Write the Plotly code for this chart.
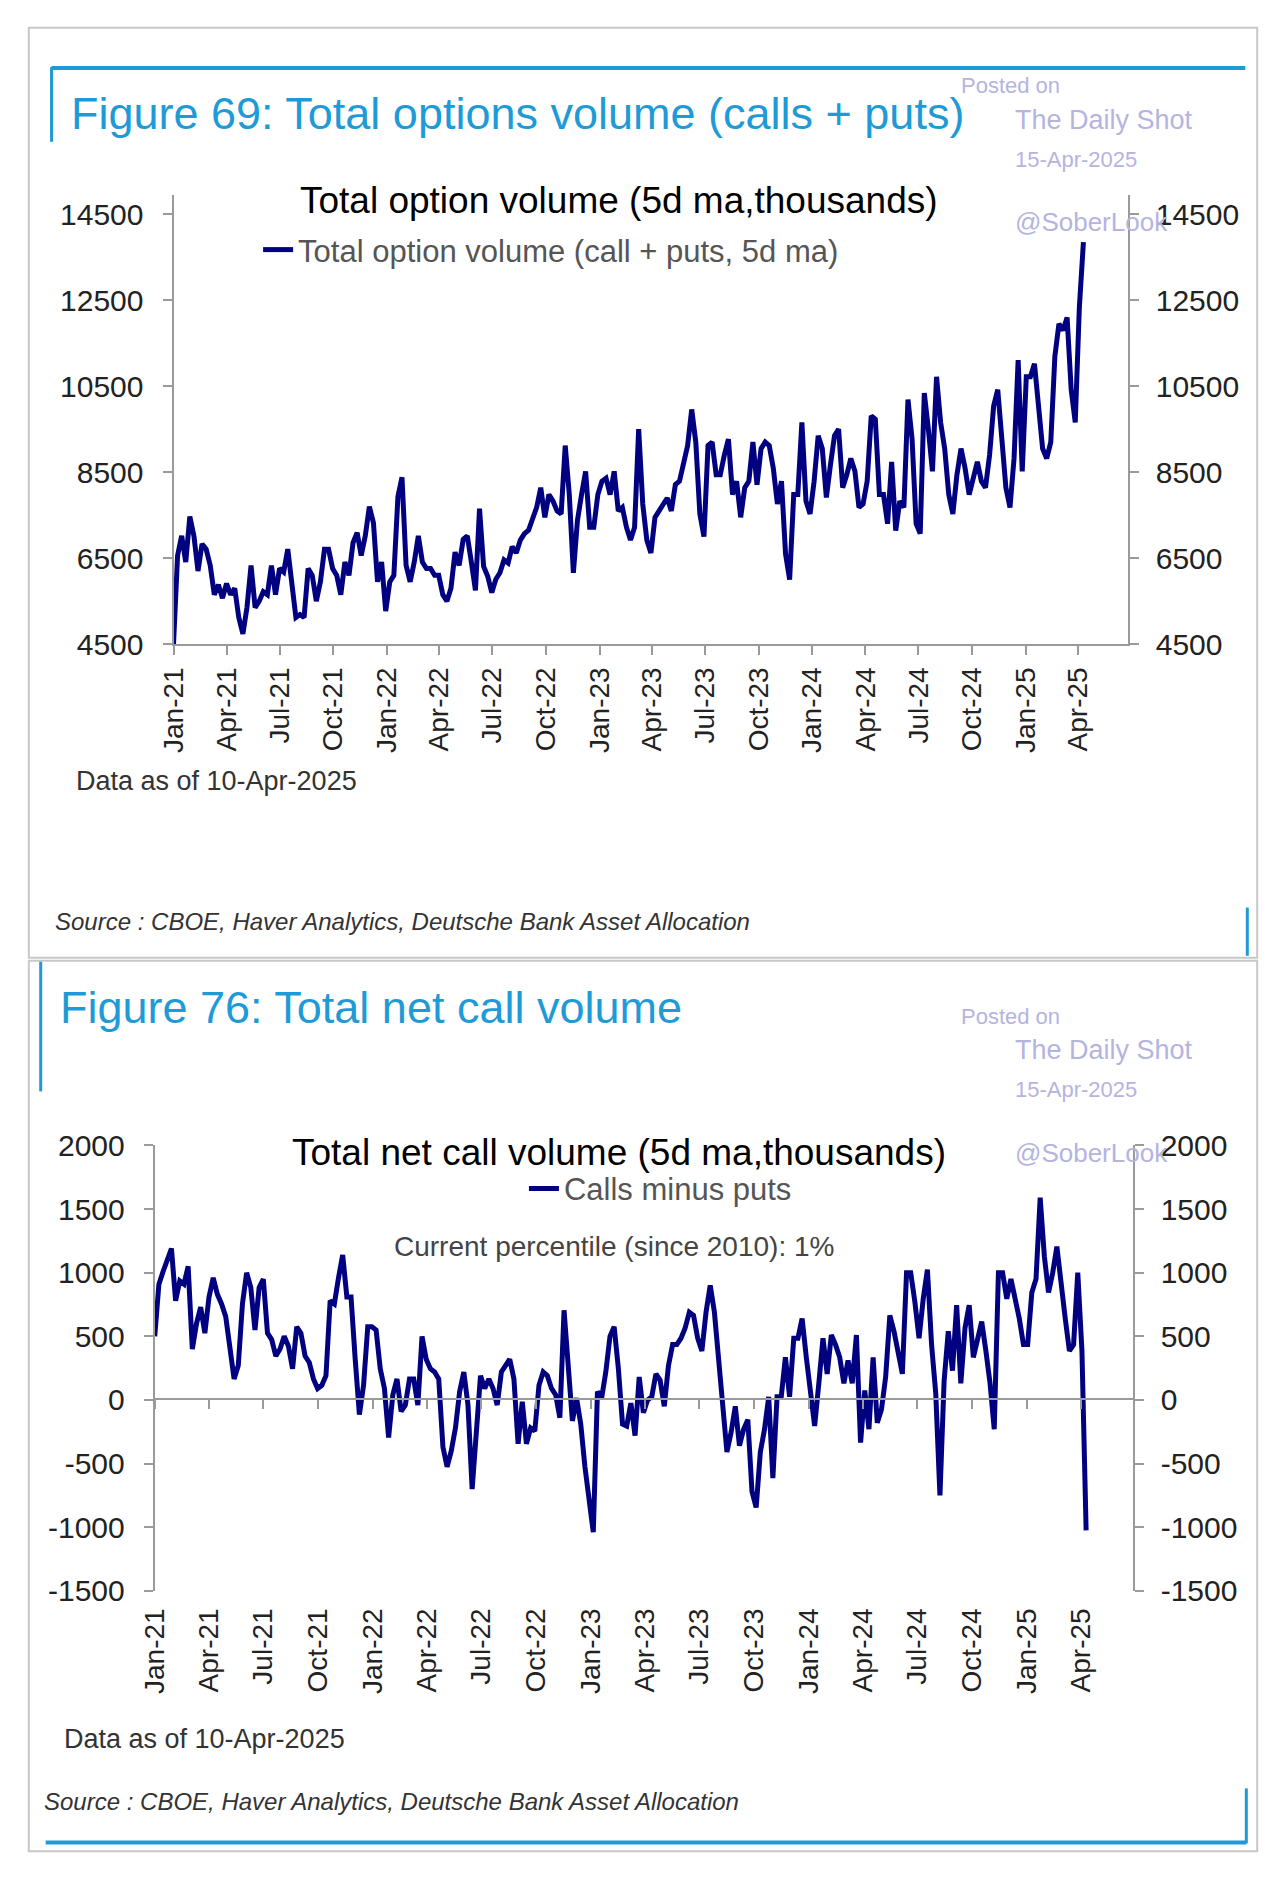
import pandas as pd
import plotly.graph_objects as go

W, H = 1272, 1884

# ---------------- data (weekly samples) ----------------
dates = pd.date_range("2020-12-31", "2025-04-10", freq="7D")

total_volume = [
    4500, 6560, 7020, 6410, 7470, 7020, 6200, 6830, 6710, 6330,
    5650, 5880, 5570, 5910, 5650, 5800, 5120, 4740, 5350, 6330,
    5350, 5500, 5720, 5650, 6330, 5650, 6260, 6180, 6710, 5880,
    5120, 5190, 5120, 6260, 6100, 5500, 5950, 6710, 6710, 6260,
    6100, 5650, 6410, 6100, 6860, 7090, 6560, 7020, 7700, 7320,
    5950, 6410, 5270, 5950, 6100, 7930, 8380, 6330, 5950, 6410,
    7020, 6410, 6260, 6260, 6100, 6100, 5650, 5500, 5800, 6640,
    6330, 6940, 7020, 6410, 5750, 7650, 6310, 6080, 5700, 6010,
    6160, 6460, 6390, 6770, 6620, 6920, 7070, 7150, 7450, 7680,
    8140, 7450, 7980, 7830, 7600, 7530, 9120, 7980, 6160, 7380,
    7980, 8520, 7220, 7220, 7980, 8290, 8360, 7980, 8520, 7600,
    7680, 7220, 6920, 7220, 9500, 7760, 6920, 6620, 7450, 7600,
    7760, 7900, 7600, 8210, 8290, 8740, 9120, 9960, 9200, 7530,
    7000, 9120, 9200, 8440, 8440, 8900, 9270, 7980, 8290, 7450,
    8140, 8290, 9200, 8210, 9050, 9200, 9120, 8590, 7760, 8290,
    6600, 6000, 7980, 7980, 9660, 7830, 7530, 8290, 9350, 9050,
    7910, 8670, 9350, 9500, 8140, 8440, 8820, 8520, 7680, 7760,
    8290, 9810, 9730, 7980, 7980, 7300, 8740, 7140, 7830, 7680,
    10190, 9280, 7300, 7070, 10340, 9500, 8520, 10720, 9660, 9050,
    7980, 7530, 8440, 9050, 8590, 7980, 8370, 8740, 8290, 8140,
    8900, 10040, 10420, 9350, 8140, 7680, 8820, 11110, 8520, 10720,
    10720, 11020, 9960, 9050, 8820, 9200, 11190, 11950, 11800, 12100,
    10420, 9660, 12330, 13850,
]

net_call = [
    500, 910, 1010, 1100, 1190, 780, 935, 910, 1050, 400,
    600, 730, 525, 810, 960, 830, 755, 655, 400, 165,
    270, 755, 1000, 885, 550, 885, 950, 525, 475, 345,
    400, 500, 425, 245, 575, 525, 345, 295, 165, 90,
    115, 190, 780, 755, 960, 1140, 810, 810, 320, -115,
    115, 575, 575, 550, 245, 90, -295, 40, 165, -90,
    -40, 165, 165, -40, 500, 320, 245, 220, 165, -370,
    -525, -400, -220, 65, 220, -40, -700, -190, 190, 90,
    165, 90, -40, 220, 270, 320, 165, -345, -15, -345,
    -220, -245, 115, 220, 190, 90, 40, -140, 705, 220,
    -165, 15, -190, -525, -810, -1040, 65, 15, 220, 500,
    575, 250, -190, -205, -25, -280, 180, -100, 0, 25,
    205, 155, -50, 270, 435, 435, 485, 565, 690, 665,
    485, 385, 690, 900, 690, 335, 25, -410, -255, -50,
    -360, -230, -155, -720, -845, -410, -230, 25, -615, 25,
    25, 335, 25, 485, 485, 640, 335, 25, -205, 130,
    485, 205, 510, 435, 335, 130, 310, 130, 510, -335,
    75, -230, 335, -180, -75, 180, 665, 540, 385, 205,
    1000, 1000, 770, 485, 795, 1025, 435, 50, -750, 150,
    540, 230, 745, 130, 565, 745, 335, 460, 615, 385,
    130, -230, 1000, 1000, 795, 950, 795, 640, 435, 435,
    845, 950, 1590, 1130, 845, 1000, 1205, 900, 640, 385,
    435, 1000, 385, -1025,
]

quarter_ticks = pd.date_range("2021-01-01", "2025-04-01", freq="QS")
tick_text = [d.strftime("%b-%y") for d in quarter_ticks]

top_yticks = [4500, 6500, 8500, 10500, 12500, 14500]
top_ytext = [str(v) for v in top_yticks]
bot_yticks = [-1500, -1000, -500, 0, 500, 1000, 1500, 2000]
bot_ytext = [str(v) for v in bot_yticks]

# ---------------- helpers ----------------
def px(x):
    return x / W


def py(y):
    return 1 - y / H


FONT = "Liberation Sans, Arial, sans-serif"
NAVY = "#000080"
BLUE = "#1E9BD7"
AXC = "#9a9a9a"
LAV = "#B4B4DF"

fig = go.Figure()

# top chart
fig.add_trace(go.Scatter(
    x=dates, y=total_volume, mode="lines", name="Total option volume (call + puts, 5d ma)",
    line=dict(color=NAVY, width=5), xaxis="x", yaxis="y", legend="legend"))
fig.add_trace(go.Scatter(
    x=dates, y=total_volume, mode="lines", showlegend=False, hoverinfo="skip",
    line=dict(color="rgba(0,0,0,0)", width=0), xaxis="x", yaxis="y2"))

# bottom chart
fig.add_trace(go.Scatter(
    x=dates, y=net_call, mode="lines", name="Calls minus puts",
    line=dict(color=NAVY, width=5), xaxis="x2", yaxis="y3", legend="legend2"))
fig.add_trace(go.Scatter(
    x=dates, y=net_call, mode="lines", showlegend=False, hoverinfo="skip",
    line=dict(color="rgba(0,0,0,0)", width=0), xaxis="x2", yaxis="y4"))
fig.add_trace(go.Scatter(
    x=dates, y=net_call, mode="lines", showlegend=False, hoverinfo="skip",
    line=dict(color="rgba(0,0,0,0)", width=0), xaxis="x3", yaxis="y3"))

tick_common = dict(ticks="outside", ticklen=9, tickwidth=2, tickcolor=AXC,
                   showline=True, linecolor=AXC, linewidth=2,
                   showgrid=False, zeroline=False)

x_top_range = ["2020-12-31", "2025-06-25"]
x_bot_range = ["2020-12-31", "2025-06-27"]

fig.update_layout(
    width=W, height=H, autosize=False,
    margin=dict(l=0, r=0, t=0, b=0),
    paper_bgcolor="white", plot_bgcolor="white",
    font=dict(family=FONT, color="#222"),
    xaxis=dict(domain=[px(160.4), px(1126)], range=x_top_range, type="date",
               tickmode="array", tickvals=quarter_ticks, ticktext=tick_text,
               tickangle=-90, tickfont=dict(size=28, color="#222"),
               ticklabelstandoff=1, anchor="y", **tick_common),
    yaxis=dict(domain=[py(639), py(182)], range=[4500, 14950],
               tickmode="array", tickvals=top_yticks, ticktext=top_ytext,
               tickfont=dict(size=30, color="#222"), ticklabelstandoff=13,
               anchor="x", **tick_common),
    yaxis2=dict(overlaying="y", side="right", range=[4500, 14950], anchor="x",
                tickmode="array", tickvals=top_yticks, ticktext=top_ytext,
                tickfont=dict(size=30, color="#222"), ticklabelstandoff=11,
                **tick_common),
    xaxis2=dict(domain=[px(141.4), px(1131)], range=x_bot_range, type="date",
                tickmode="array", tickvals=quarter_ticks, ticktext=tick_text,
                tickangle=-90, tickfont=dict(size=28, color="#222"),
                ticks="", showline=False, showgrid=False, zeroline=False,
                ticklabelstandoff=11, anchor="y3"),
    xaxis3=dict(overlaying="x2", range=x_bot_range, type="date", anchor="free",
                position=py(1407), side="bottom",
                tickmode="array", tickvals=quarter_ticks, showticklabels=False,
                **tick_common),
    yaxis3=dict(domain=[py(1602), py(1149)], range=[-1500, 2000],
                tickmode="array", tickvals=bot_yticks, ticktext=bot_ytext,
                tickfont=dict(size=30, color="#222"), ticklabelstandoff=13,
                anchor="x2", **tick_common),
    yaxis4=dict(overlaying="y3", side="right", range=[-1500, 2000], anchor="x2",
                tickmode="array", tickvals=bot_yticks, ticktext=bot_ytext,
                tickfont=dict(size=30, color="#222"), ticklabelstandoff=11,
                **tick_common),
    legend=dict(x=px(246), y=py(238), xanchor="left", yanchor="middle",
                bgcolor="rgba(0,0,0,0)", font=dict(size=31, color="#555"),
                itemwidth=30),
    legend2=dict(x=px(515), y=py(1193), xanchor="left", yanchor="middle",
                 bgcolor="rgba(0,0,0,0)", font=dict(size=31, color="#555"),
                 itemwidth=30),
    showlegend=True,
)


def text(x, y, s, size, color, xanchor="left", italic=False):
    fig.add_annotation(x=px(x), y=py(y), xref="paper", yref="paper", text=s,
                       showarrow=False, xanchor=xanchor, yanchor="middle",
                       font=dict(size=size, color=color, family=FONT,
                                 style="italic" if italic else "normal"))


# ---- top panel texts ----
text(55, 99, "Figure 69: Total options volume (calls + puts)", 45, BLUE)
text(955, 71, "Posted on", 22, LAV)
text(1010, 106, "The Daily Shot", 27, LAV)
text(1010, 146, "15-Apr-2025", 22, LAV)
text(611, 188, "Total option volume (5d ma,thousands)", 37, "#000", xanchor="center")
text(1010, 210, "@SoberLook", 26, LAV)
text(60, 778, "Data as of 10-Apr-2025", 27, "#333")
text(38, 921, "Source : CBOE, Haver Analytics, Deutsche Bank Asset Allocation", 24, "#333", italic=True)

# ---- bottom panel texts ----
text(44, 1009, "Figure 76: Total net call volume", 45, BLUE)
text(955, 1018, "Posted on", 22, LAV)
text(1010, 1052, "The Daily Shot", 27, LAV)
text(1010, 1092, "15-Apr-2025", 22, LAV)
text(611, 1156, "Total net call volume (5d ma,thousands)", 37, "#000", xanchor="center")
text(1010, 1157, "@SoberLook", 26, LAV)
text(606, 1252, "Current percentile (since 2010): 1%", 28, "#444", xanchor="center")
text(48, 1753, "Data as of 10-Apr-2025", 27, "#333")
text(27, 1816, "Source : CBOE, Haver Analytics, Deutsche Bank Asset Allocation", 24, "#333", italic=True)


# ---- frames and blue rules ----
def rect(x0, y0, x1, y1, color, width):
    fig.add_shape(type="rect", xref="paper", yref="paper",
                  x0=px(x0), y0=py(y1), x1=px(x1), y1=py(y0),
                  line=dict(color=color, width=width), fillcolor="rgba(0,0,0,0)")


def line(x0, y0, x1, y1, color, width):
    fig.add_shape(type="line", xref="paper", yref="paper",
                  x0=px(x0), y0=py(y0), x1=px(x1), y1=py(y1),
                  line=dict(color=color, width=width))


rect(14, 12, 1257, 958, "#c8c8c8", 2)
rect(14, 961, 1257, 1867, "#c8c8c8", 2)

line(37, 53, 1245, 53, BLUE, 4)
line(37, 52, 37, 128, BLUE, 3)
line(1247, 907, 1247, 956, BLUE, 3)

line(26, 962, 26, 1094, BLUE, 3)
line(31, 1858, 1246, 1858, BLUE, 4)
line(1246, 1803, 1246, 1859, BLUE, 3)

fig.write_html(
    "out.html",
    config={"displayModeBar": False},
    post_script="document.body.style.margin='0';document.body.style.padding='0';"
                "document.body.style.overflow='hidden';",
)
